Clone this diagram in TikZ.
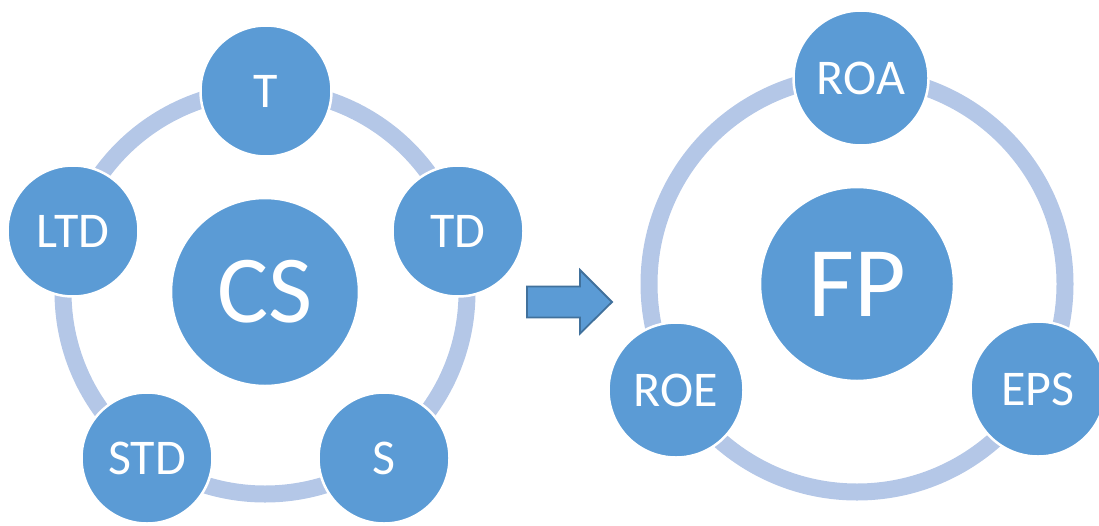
\documentclass[tikz,border=0pt]{standalone}
\usepackage{fontspec}
\setmainfont{Carlito}
\definecolor{nodeblue}{HTML}{5B9BD5}
\definecolor{ringblue}{HTML}{B4C7E7}
\definecolor{arrowedge}{HTML}{41719C}
\tikzset{
  ring/.style={draw=ringblue, line width=17pt},
  bubble/.style={circle, fill=nodeblue, draw=white, line width=2.5pt,
    text=white, inner sep=0pt, font=\fontsize{50}{50}\selectfont},
  smallbubble/.style={bubble, minimum size=131pt},
  rightbubble/.style={bubble, minimum size=135pt},
  hub/.style={bubble, minimum size=188pt, font=\fontsize{96}{96}\selectfont},
  blockarrow/.style={fill=nodeblue, draw=arrowedge, line width=1.8pt, line join=miter}
}
\begin{document}
\begin{tikzpicture}[x=1pt, y=-1pt]
  \useasboundingbox (0,0) rectangle (1099,525);
  \clip (0,0) rectangle (1099,525);

  % left cycle: capital structure and its components
  \coordinate (lc) at (265,292);
  \draw[ring] (lc) circle[radius=202pt];
  \node[hub] (cs) at (lc) {CS};
  \node[smallbubble] (t)   at (266,91)  {T};
  \node[smallbubble] (td)  at (458,231) {TD};
  \node[smallbubble] (s)   at (384,458) {S};
  \node[smallbubble] (std) at (147,458) {STD};
  \node[smallbubble] (ltd) at (73,231)  {LTD};

  % block arrow between the two cycles
  \coordinate (ar) at (527,302);
  \draw[blockarrow] ([shift={(0,-15.5)}]ar) -- ++(53,0) -- ++(0,-16.5)
    -- ++(32,32) -- ++(-32,31.5) -- ++(0,-16) -- ++(-53,0) -- cycle;

  % right cycle: financial performance and its measures
  \coordinate (rc) at (857,284);
  \draw[ring] (rc) circle[radius=208pt];
  \node[hub, minimum size=194pt, font=\fontsize{100}{100}\selectfont] (fp) at (rc) {FP};
  \node[rightbubble] (roa) at (861,78)   {ROA};
  \node[rightbubble] (eps) at (1038,389) {EPS};
  \node[rightbubble] (roe) at (676,390)  {ROE};
\end{tikzpicture}
\end{document}
